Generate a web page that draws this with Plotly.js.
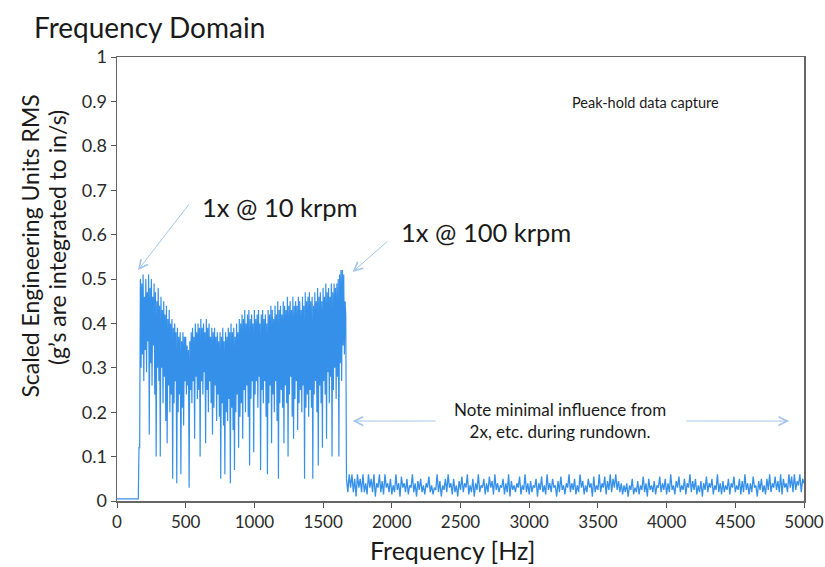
<!DOCTYPE html>
<html>
<head>
<meta charset="utf-8">
<script src="https://cdn.plot.ly/plotly-3.0.1.min.js"></script>
<style>html,body{margin:0;padding:0;background:#fff}#chart{width:825px;height:567px}</style>
</head>
<body>
<div id="chart"></div>
<script>
// Low-frequency part, sampled every 5 Hz from 0 Hz to 1670 Hz
const baseline = [0.005,0.005,0.005,0.005,0.005,0.005,0.005,0.005,0.005,0.005,0.005,0.005,0.005,0.005,0.005,0.005,
                  0.005,0.005,0.005,0.005,0.005,0.005,0.005,0.005,0.005,0.005,0.005,0.005,0.005,0.005,0.005,0.005];
const rampUp = [0.12,0.12];
const peakBand = [
  0.50,0.30,0.49,0.33,0.51,0.27,
  0.46,0.34,0.50,0.29,0.47,0.36,0.51,0.15,0.48,0.31,0.50,0.26,0.46,0.35,0.49,0.24,0.47,0.10,0.45,0.30,
  0.48,0.27,0.44,0.10,0.46,0.30,0.43,0.22,0.45,0.28,0.42,0.18,0.44,0.13,0.41,0.26,0.43,0.20,0.40,0.24,
  0.41,0.05,0.39,0.22,0.40,0.27,0.38,0.04,0.39,0.20,0.37,0.24,0.38,0.06,0.36,0.21,0.38,0.17,0.37,0.27,
  0.37,0.24,0.35,0.26,0.34,0.03,0.36,0.25,0.38,0.22,0.39,0.27,0.37,0.14,0.40,0.28,0.38,0.23,0.40,0.25,
  0.39,0.10,0.41,0.27,0.39,0.24,0.40,0.29,0.38,0.13,0.41,0.25,0.39,0.20,0.40,0.27,0.37,0.22,0.39,0.15,
  0.38,0.21,0.39,0.26,0.37,0.18,0.38,0.24,0.36,0.19,0.38,0.05,0.37,0.22,0.39,0.17,0.36,0.06,0.38,0.20,
  0.37,0.18,0.39,0.23,0.38,0.04,0.40,0.21,0.38,0.16,0.39,0.07,0.37,0.20,0.40,0.24,0.38,0.12,0.41,0.19,
  0.40,0.22,0.42,0.14,0.41,0.25,0.43,0.20,0.40,0.26,0.42,0.19,0.43,0.08,0.41,0.23,0.42,0.27,0.40,0.11,
  0.43,0.24,0.41,0.27,0.42,0.21,0.43,0.28,0.40,0.07,0.42,0.25,0.43,0.22,0.41,0.27,0.42,0.19,0.40,0.06,
  0.43,0.22,0.42,0.26,0.44,0.13,0.43,0.24,0.41,0.20,0.44,0.27,0.42,0.18,0.45,0.05,0.43,0.22,0.44,0.25,
  0.42,0.21,0.45,0.13,0.44,0.26,0.43,0.22,0.46,0.10,0.44,0.24,0.45,0.28,0.43,0.19,0.46,0.14,0.44,0.23,
  0.45,0.27,0.44,0.16,0.46,0.22,0.45,0.25,0.43,0.20,0.46,0.26,0.44,0.05,0.47,0.21,0.45,0.24,0.46,0.19,
  0.47,0.25,0.45,0.21,0.46,0.05,0.44,0.24,0.47,0.27,0.45,0.20,0.48,0.08,0.46,0.26,0.47,0.22,0.45,0.12,
  0.48,0.27,0.46,0.24,0.49,0.14,0.47,0.29,0.48,0.22,0.46,0.28,0.49,0.10,0.47,0.25,0.49,0.30,0.48,0.23,
  0.49,0.28,0.50,0.10,0.51,0.31,0.52,0.27,0.52,0.35,0.51,0.33,0.45,0.42,
  0.05
];
// Rundown part, sampled every 10 Hz from 1670 Hz to 5000 Hz
const rundown = [
  0.05,0.02,0.06,
  0.03,0.06,0.02,0.05,0.01,0.06,0.03,0.05,0.02,0.06,
  0.02,0.04,0.015,0.06,0.03,0.05,0.02,0.06,0.01,0.04,
  0.03,0.06,0.02,0.045,0.015,0.06,0.03,0.04,0.02,0.05,
  0.015,0.035,0.02,0.06,0.025,0.04,0.01,0.055,0.03,0.04,
  0.02,0.05,0.015,0.035,0.03,0.06,0.02,0.04,0.01,0.045,
  0.025,0.05,0.02,0.035,0.015,0.04,0.03,0.055,0.02,0.035,
  0.015,0.03,0.025,0.06,0.02,0.045,0.01,0.035,0.025,0.05,
  0.02,0.06,0.03,0.04,0.015,0.05,0.02,0.035,0.01,0.045,
  0.025,0.055,0.02,0.04,0.03,0.06,0.015,0.035,0.02,0.05,
  0.01,0.04,0.025,0.06,0.02,0.035,0.03,0.05,0.015,0.04,
  0.02,0.055,0.03,0.045,0.015,0.06,0.025,0.04,0.02,0.035,
  0.03,0.05,0.015,0.04,0.02,0.06,0.01,0.045,0.025,0.035,
  0.02,0.04,0.03,0.055,0.015,0.035,0.025,0.06,0.02,0.04,
  0.015,0.045,0.02,0.035,0.03,0.05,0.01,0.04,0.025,0.055,
  0.02,0.035,0.015,0.06,0.025,0.04,0.02,0.05,0.03,0.035,
  0.01,0.045,0.02,0.055,0.025,0.035,0.015,0.04,0.03,0.06,
  0.02,0.04,0.025,0.05,0.015,0.035,0.02,0.06,0.03,0.045,
  0.015,0.035,0.02,0.05,0.03,0.04,0.01,0.055,0.02,0.035,
  0.025,0.06,0.02,0.04,0.03,0.055,0.015,0.045,0.025,0.06,
  0.02,0.05,0.03,0.06,0.025,0.045,0.02,0.04,0.015,0.035,
  0.02,0.04,0.01,0.035,0.025,0.05,0.015,0.03,0.02,0.045,
  0.015,0.035,0.025,0.055,0.02,0.04,0.01,0.05,0.025,0.035,
  0.02,0.045,0.015,0.035,0.03,0.055,0.02,0.04,0.025,0.05,
  0.015,0.04,0.02,0.06,0.025,0.035,0.015,0.045,0.03,0.055,
  0.02,0.035,0.025,0.05,0.015,0.04,0.03,0.06,0.02,0.045,
  0.025,0.05,0.015,0.035,0.02,0.045,0.01,0.04,0.025,0.055,
  0.02,0.04,0.03,0.05,0.015,0.035,0.025,0.06,0.02,0.04,
  0.015,0.045,0.02,0.035,0.025,0.05,0.015,0.04,0.03,0.055,
  0.02,0.035,0.025,0.05,0.015,0.045,0.02,0.06,0.025,0.04,
  0.015,0.04,0.02,0.055,0.03,0.035,0.01,0.045,0.025,0.05,
  0.02,0.035,0.015,0.05,0.025,0.06,0.02,0.04,0.03,0.055,
  0.025,0.045,0.02,0.06,0.015,0.05,0.03,0.04,0.02,0.06,
  0.03,0.055,0.02,0.06,0.025,0.045,0.035,0.06,0.02,0.05,
  0.04
];
const lowPart = baseline.concat(rampUp, peakBand);
const xTicks = [0,500,1000,1500,2000,2500,3000,3500,4000,4500,5000];
const yTicks = [0,0.1,0.2,0.3,0.4,0.5,0.6,0.7,0.8,0.9,1];

const FONT = 'Lato, "Open Sans", sans-serif';
const lineColor = '#3590ea';
const arrowColor = '#a2c5ea';

const traces = [
  {type: 'scatter', mode: 'lines', x0: 0, dx: 5, y: lowPart,
   line: {color: lineColor, width: 1.2}, hoverinfo: 'skip'},
  {type: 'scatter', mode: 'lines', x0: 1670, dx: 10, y: rundown,
   line: {color: lineColor, width: 1.3}, hoverinfo: 'skip'}
];

function txt(x, y, text, size, extra) {
  return Object.assign({xref: 'paper', yref: 'paper', x: x, y: y, text: text, showarrow: false,
    xanchor: 'center', yanchor: 'middle', font: {family: FONT, size: size, color: '#1a1a1a'}}, extra || {});
}
function arrow(x, y, tailX, tailY) {
  return {xref: 'x', yref: 'y', x: x, y: y, ax: tailX, ay: tailY, axref: 'pixel', ayref: 'pixel',
          text: '', showarrow: true, arrowhead: 5, arrowsize: 1.7, arrowwidth: 1, arrowcolor: arrowColor};
}

const layout = {
  width: 825, height: 567,
  margin: {l: 117, r: 21, t: 57, b: 66},
  paper_bgcolor: '#fff', plot_bgcolor: '#fff',
  showlegend: false,
  font: {family: FONT, color: '#333'},
  xaxis: {
    range: [0, 5000], tickvals: xTicks, ticks: 'outside', ticklen: 5, tickcolor: '#555',
    showline: true, linecolor: '#666', linewidth: 1.5, mirror: true,
    showgrid: false, zeroline: false, ticklabeloverflow: 'allow',
    tickfont: {family: FONT, size: 17, color: '#2a2a2a'}
  },
  yaxis: {
    range: [0, 1], tickvals: yTicks, ticks: 'outside', ticklen: 5, tickcolor: '#555',
    showline: true, linecolor: '#666', linewidth: 1.5, mirror: true,
    showgrid: false, zeroline: false, ticklabeloverflow: 'allow',
    tickfont: {family: FONT, size: 18, color: '#2a2a2a'}
  },
  annotations: [
    txt(-0.1235, 1.0676, 'Frequency Domain', 28, {xanchor: 'left'}),
    txt(0.4884, -0.1104, 'Frequency [Hz]', 25),
    txt(-0.1265, 0.5732, 'Scaled Engineering Units RMS', 23, {textangle: -90}),
    txt(-0.0872, 0.5923, '(g’s are integrated to in/s)', 23, {textangle: -90}),
    txt(0.769, 0.8986, 'Peak-hold data capture', 14.5),
    txt(0.2369, 0.6622, '1x @ 10 krpm', 25.5),
    txt(0.5378, 0.6059, '1x @ 100 krpm', 25.5),
    txt(0.6453, 0.1802, 'Note minimal influence from<br>2x, etc. during rundown.', 17),
    arrow(153, 0.520, 190, 203),
    arrow(1715, 0.516, 389, 240),
    arrow(1715, 0.180, 437, 421),
    arrow(4891, 0.180, 685, 421)
  ]
};

// tails above are absolute page pixels; convert to offsets relative to the arrow tip
layout.annotations.forEach(a => {
  if (a.axref === 'pixel') {
    const px = 117 + a.x / 5000 * 687;
    const py = 57 + (1 - a.y) * 444;
    a.ax = a.ax - px; a.ay = a.ay - py;
  }
});

Plotly.newPlot('chart', traces, layout, {displayModeBar: false, staticPlot: true});
</script>
</body>
</html>
